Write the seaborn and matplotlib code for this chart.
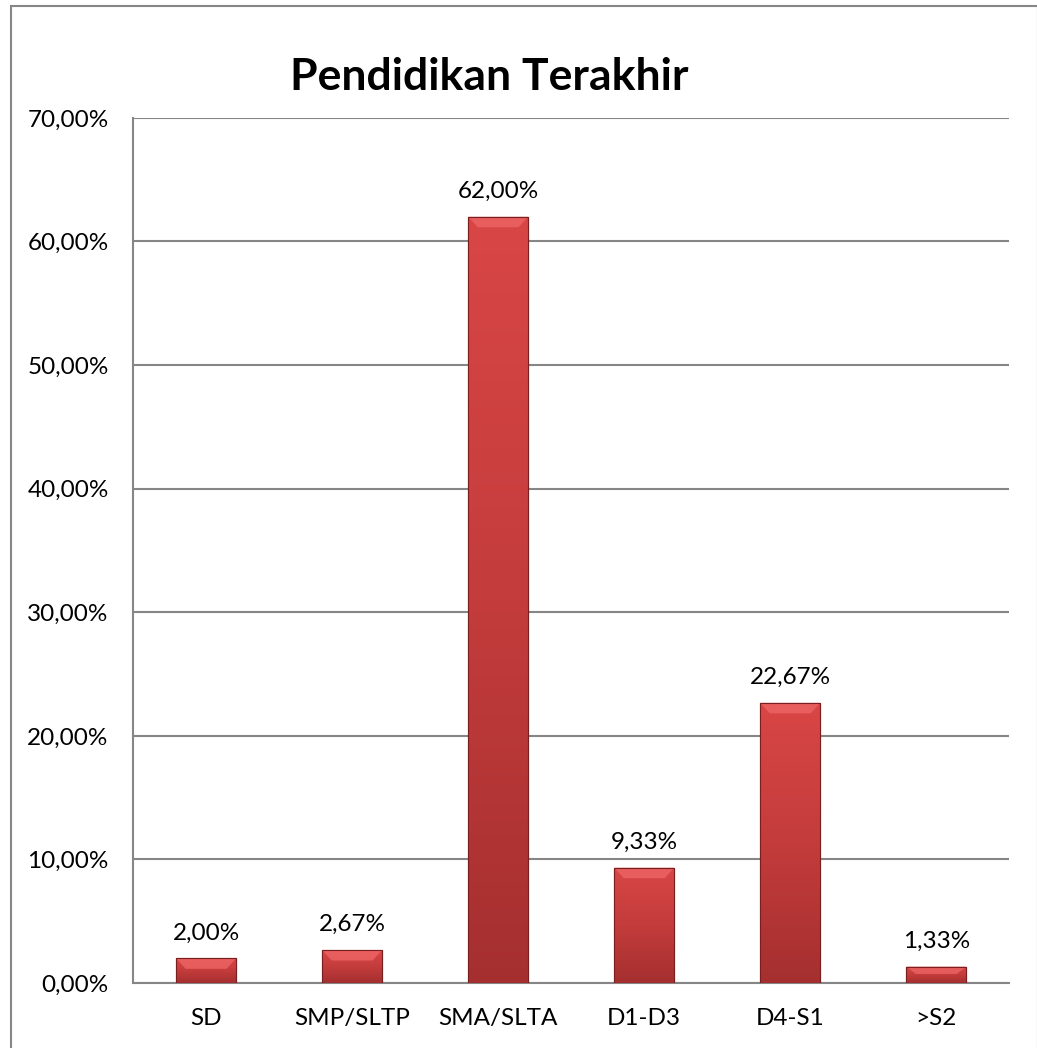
import numpy as np
import pandas as pd
import matplotlib
matplotlib.use("Agg")
import matplotlib.pyplot as plt
import seaborn as sns
from matplotlib.colors import LinearSegmentedColormap
from matplotlib.patches import Rectangle, Polygon

categories = ["SD", "SMP/SLTP", "SMA/SLTA", "D1-D3", "D4-S1", ">S2"]
values = [2.00, 2.67, 62.00, 9.33, 22.67, 1.33]
yticks = [0, 10, 20, 30, 40, 50, 60, 70]

df = pd.DataFrame({"pendidikan": categories, "persen": values})

sns.set_style("white")
plt.rcParams["font.family"] = ["Lato", "DejaVu Sans"]
plt.rcParams["text.color"] = "black"
plt.rcParams["xtick.color"] = "black"
plt.rcParams["ytick.color"] = "black"

fig = plt.figure(figsize=(10.37, 10.48), dpi=100)
ax = fig.add_axes([0.1283, 0.062, 0.845, 0.8255])

sns.barplot(data=df, x="pendidikan", y="persen", color="#c23a3a",
            width=0.41, ax=ax, zorder=3, edgecolor="#7a1f1f", linewidth=0.8)

# gradient + bevel on each bar, like the excel style
cmap = LinearSegmentedColormap.from_list("bar", ["#d94646", "#c43c3c", "#a52f2f"])
grad = np.linspace(1, 0, 256).reshape(-1, 1)
for p in ax.patches[:len(values)]:
    x0, y0 = p.get_x(), p.get_y()
    w, h = p.get_width(), p.get_height()
    im = ax.imshow(grad, cmap=cmap, aspect="auto", zorder=3.5,
                   extent=[x0, x0 + w, y0, y0 + h], origin="lower")
    im.set_clip_path(p)
    bev = min(0.85, h * 0.45)
    top = Polygon([[x0, y0 + h], [x0 + w, y0 + h],
                   [x0 + w - 0.065, y0 + h - bev], [x0 + 0.065, y0 + h - bev]],
                  closed=True, facecolor="#ec6262", edgecolor="none",
                  alpha=0.85, zorder=3.6)
    ax.add_patch(top)
    ax.add_patch(Rectangle((x0, y0), w, h, fill=False, edgecolor="#7a1f1f",
                           linewidth=0.8, zorder=3.7))

ax.set_xlim(-0.5, len(categories) - 0.5)
ax.set_ylim(0, 70)
ax.set_yticks(yticks)
ax.set_yticklabels([f"{t:.2f}%".replace(".", ",") for t in yticks], fontsize=17.5)
ax.set_xticks(range(len(categories)))
ax.set_xticklabels(categories, fontsize=17.5)
ax.set_xticks(np.arange(-0.5, len(categories), 1), minor=True)
ax.tick_params(axis="x", which="major", length=0, pad=18)
ax.tick_params(axis="x", which="minor", length=6, width=1.5, color="#868686", direction="out")
ax.tick_params(axis="y", length=6.5, width=1.5, color="#868686", labelcolor="black",
               direction="out", pad=11)
ax.set_xlabel("")
ax.set_ylabel("")

ax.yaxis.grid(True, color="#868686", linewidth=1.5, zorder=0)
ax.set_axisbelow(True)
for s in ["top", "right"]:
    ax.spines[s].set_visible(False)
for s in ["left", "bottom"]:
    ax.spines[s].set_color("#868686")
    ax.spines[s].set_linewidth(1.5)

for p, v in zip(ax.patches[:len(values)], values):
    ax.text(p.get_x() + p.get_width() / 2, p.get_height() + 1.2,
            f"{v:.2f}%".replace(".", ","), ha="center", va="bottom", fontsize=17.5)

fig.text(0.472, 0.9265, "Pendidikan Terakhir", ha="center", va="center",
         fontsize=32, fontweight="bold")

fig.patches.append(Rectangle((0.0106, -0.01), 0.99, 1 - 0.0057 + 0.01,
                             transform=fig.transFigure, fill=False,
                             edgecolor="#868686", linewidth=1.5))

fig.savefig("out.png", dpi=100, facecolor="white")
